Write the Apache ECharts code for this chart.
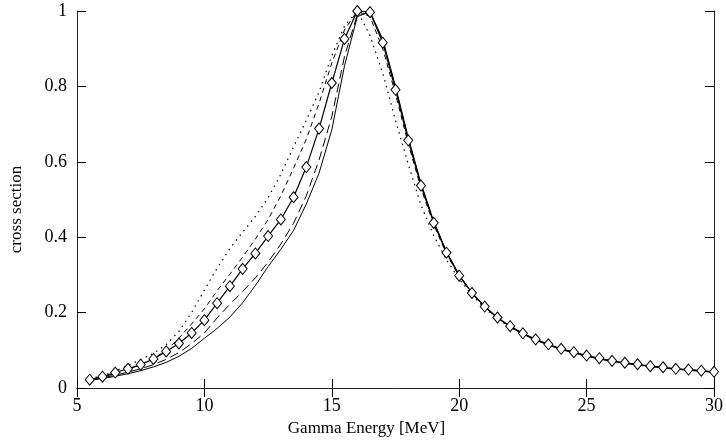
<!DOCTYPE html>
<html>
<head>
<meta charset="utf-8">
<script src="https://cdn.jsdelivr.net/npm/echarts@6/dist/echarts.min.js"></script>
<style>html,body{margin:0;padding:0;background:#fff;}#c{width:726px;height:442px;}</style>
</head>
<body>
<div id="c"></div>
<script>
var energies = [5.5,6,6.5,7,7.5,8,8.5,9,9.5,10,10.5,11,11.5,12,12.5,13,13.5,14,14.5,15,15.5,16,16.5,17,17.5,18,18.5,19,19.5,20,20.5,21,21.5,22,22.5,23,23.5,24,24.5,25,25.5,26,26.5,27,27.5,28,28.5,29,29.5,30];

var diamondCurve = [0.022,0.030,0.041,0.051,0.062,0.077,0.097,0.118,0.146,0.180,0.225,0.270,0.316,0.357,0.403,0.447,0.506,0.586,0.688,0.809,0.926,1.000,0.997,0.916,0.791,0.657,0.537,0.438,0.359,0.298,0.252,0.216,0.187,0.164,0.145,0.129,0.116,0.104,0.095,0.086,0.079,0.072,0.067,0.063,0.058,0.055,0.051,0.049,0.046,0.043];

var solidCurve = [0.020,0.025,0.031,0.038,0.046,0.056,0.068,0.084,0.105,0.132,0.158,0.188,0.226,0.272,0.322,0.368,0.418,0.488,0.570,0.685,0.855,0.985,0.998,0.925,0.800,0.665,0.543,0.442,0.362,0.300,0.253,0.216,0.186,0.162,0.143,0.127,0.114,0.102,0.093,0.084,0.077,0.071,0.065,0.061,0.057,0.053,0.050,0.047,0.044,0.042];

var longDashCurve = [0.021,0.027,0.034,0.042,0.051,0.062,0.076,0.094,0.118,0.146,0.186,0.222,0.256,0.292,0.334,0.382,0.437,0.510,0.605,0.720,0.880,0.990,0.996,0.922,0.797,0.662,0.541,0.441,0.361,0.299,0.252,0.215,0.186,0.163,0.144,0.128,0.115,0.103,0.094,0.085,0.078,0.071,0.066,0.062,0.057,0.054,0.050,0.048,0.045,0.042];

var shortDashCurve = [0.022,0.029,0.038,0.049,0.062,0.078,0.100,0.132,0.170,0.210,0.258,0.302,0.347,0.395,0.447,0.510,0.583,0.660,0.755,0.862,0.950,1.000,0.985,0.900,0.780,0.648,0.530,0.433,0.356,0.296,0.250,0.214,0.185,0.163,0.144,0.128,0.115,0.104,0.094,0.086,0.078,0.072,0.066,0.062,0.058,0.054,0.051,0.048,0.046,0.043];

var dottedCurve = [0.024,0.033,0.045,0.060,0.075,0.092,0.115,0.150,0.200,0.260,0.318,0.370,0.413,0.455,0.505,0.567,0.640,0.710,0.785,0.882,0.960,1.000,0.935,0.835,0.710,0.594,0.485,0.404,0.340,0.289,0.247,0.212,0.184,0.161,0.142,0.127,0.114,0.103,0.093,0.085,0.077,0.071,0.066,0.061,0.057,0.054,0.050,0.048,0.045,0.042];

var xTicks = [5,10,15,20,25,30];
var yTicks = [0,0.2,0.4,0.6,0.8,1];

function pairs(ys){ return energies.map(function(x,i){ return [x, ys[i]]; }); }

var font = 'Liberation Serif';
var chart = echarts.init(document.getElementById('c'), null, {renderer:'canvas'});
var axisLine = {show:true, lineStyle:{color:'#222', width:1}};
var tick = {show:true, inside:true, length:9, lineStyle:{color:'#000', width:1}};

function lineSeries(ys, type, w){
  return {type:'line', data:pairs(ys), symbol:'none', smooth:false, silent:true,
    lineStyle:{color:'#000', width:w||1, type:type}, z:2};
}

chart.setOption({
  animation:false,
  backgroundColor:'#fff',
  grid:{left:75, right:11, top:11, bottom:54, containLabel:false},
  xAxis:[{
    type:'value', min:xTicks[0], max:xTicks[xTicks.length-1], interval:5,
    name:'Gamma Energy [MeV]', nameLocation:'middle', nameGap:30,
    nameTextStyle:{fontFamily:font, fontSize:17, color:'#000', padding:[0,58,0,0]},
    axisLine:axisLine, axisTick:tick, splitLine:{show:false},
    axisLabel:{fontFamily:font, fontSize:18, color:'#000', margin:9}
  },{
    type:'value', position:'top', min:5, max:30, interval:5,
    axisLine:axisLine, axisTick:tick, axisLabel:{show:false}, splitLine:{show:false}
  }],
  yAxis:[{
    type:'value', min:yTicks[0], max:yTicks[yTicks.length-1], interval:0.2,
    name:'cross section', nameLocation:'middle', nameGap:52,
    nameTextStyle:{fontFamily:font, fontSize:17, color:'#000', padding:[0,20,0,0]},
    axisLine:axisLine, axisTick:tick, splitLine:{show:false},
    axisLabel:{fontFamily:font, fontSize:18, color:'#000', margin:10}
  },{
    type:'value', position:'right', min:0, max:1, interval:0.2,
    axisLine:axisLine, axisTick:tick, axisLabel:{show:false}, splitLine:{show:false}
  }],
  series:[
    lineSeries(solidCurve, 'solid', 1),
    lineSeries(longDashCurve, [9,5], 1),
    lineSeries(shortDashCurve, [5,4], 1),
    lineSeries(dottedCurve, [1.5,4.5], 1.2),
    {type:'line', data:pairs(diamondCurve), symbol:'diamond', symbolSize:[9,11], smooth:false,
     lineStyle:{color:'#000', width:1.2}, itemStyle:{color:'#fff', borderColor:'#000', borderWidth:1}, z:3}
  ]
});
</script>
</body>
</html>
